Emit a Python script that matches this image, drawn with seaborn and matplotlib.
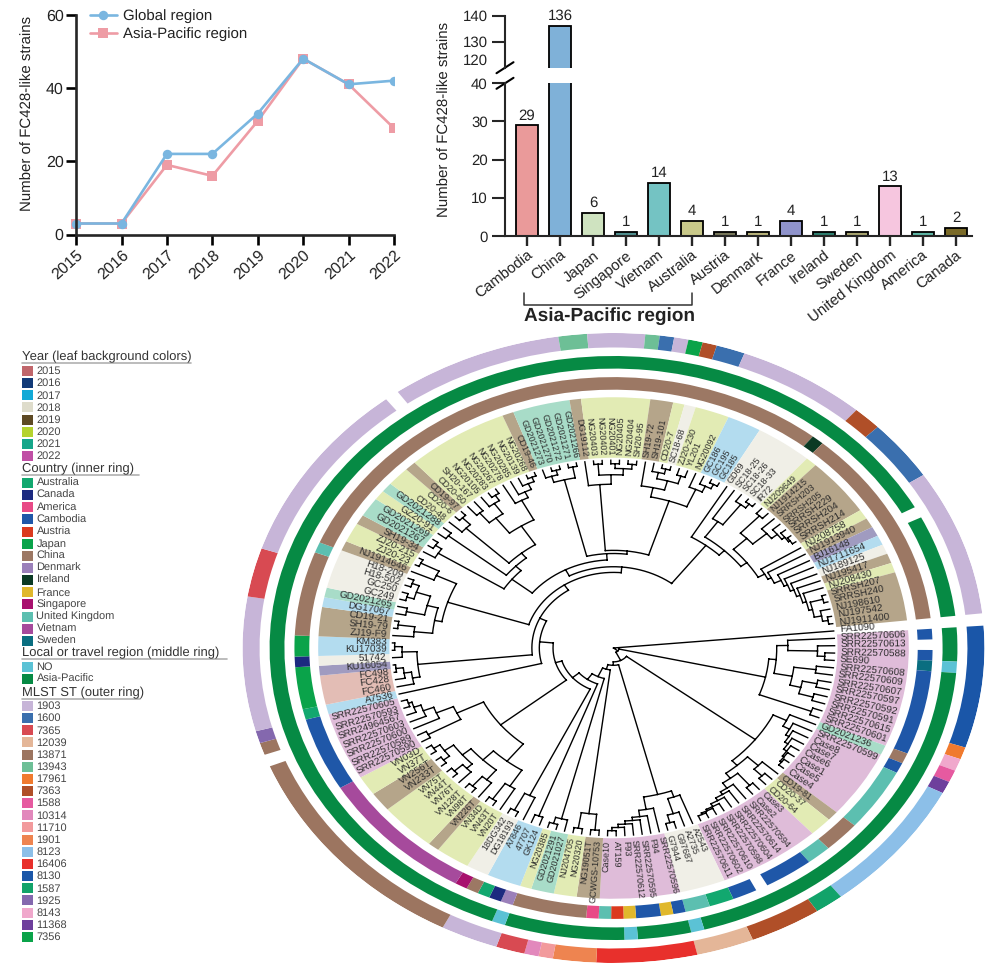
import re
import itertools
import numpy as np
import pandas as pd
import matplotlib
matplotlib.use("Agg")
import matplotlib.pyplot as plt
from matplotlib.patches import Rectangle
import seaborn as sns

W, H = 994, 971

# ---------- top-left line chart ----------
years = [2015, 2016, 2017, 2018, 2019, 2020, 2021, 2022]
global_counts = [3, 3, 22, 22, 33, 48, 41, 42]
asia_counts = [3, 3, 19, 16, 31, 48, 41, 29]

# ---------- top-right bar chart ----------
bar_countries = ["Cambodia", "China", "Japan", "Singapore", "Vietnam", "Australia", "Austria",
                 "Denmark", "France", "Ireland", "Sweden", "United Kingdom", "America", "Canada"]
bar_counts = [29, 136, 6, 1, 14, 4, 1, 1, 4, 1, 1, 13, 1, 2]
bar_colors = ["#ea9a9a", "#7fb1d8", "#cfe3c0", "#4f8f8f", "#74c3c3", "#c9c98a", "#77775a",
              "#b8b37a", "#8f93cb", "#2f7f70", "#a7a46f", "#f6c6df", "#5db5a4", "#7a6a28"]

# ---------- tree leaves, clockwise from FA1090 ----------
leaf_names = [
    "FA1090", "SRR22570606", "SRR22570613", "SRR22570588", "SE690", "SRR22570608", "SRR22570609",
    "SRR22570607", "SRR22570597", "SRR22570592", "SRR22570591", "SRR22570615", "SRR22570601",
    "GD2021236", "SRR22570599", "Case8", "Case7", "Case6", "Case1", "Case5", "Case4", "CD19-81",
    "CD20-37", "CD20-64", "Case3", "Case2", "SRR22570594", "SRR22570614", "SRR22570604",
    "SRR22570598", "SRR22570610", "SRR22570602", "SRR22570611",
    "A2543", "A2735", "G97687", "G7944", "SRR22570596", "F94", "SRR22570595", "SRR22570612", "F93",
    "AT159", "Case10",
    "GCWGS-10753", "NG19051T", "NG20320", "NJ204705", "GD2021027", "GD2021291", "NG20385", "GK124",
    "47707", "A7846", "DG18193", "18DG342",
    "VN20T", "VN43T", "VN34D", "VN226T", "VN98T", "VN128T", "VN76T", "VN44T", "VN75T", "VN233T",
    "VN256T", "VN37T", "VN03D", "SRR22570590", "SRR22570589", "SRR22570600", "SRR22570603",
    "SRR24964567", "SRR22570593", "SRR22570605",
    "A7536", "FC460", "FC428", "FC498", "KU16054", "51742", "KU17039", "KM383",
    "ZJ19-F9", "SH19-79", "CD19-21", "DG17067", "GD2021265", "GC249", "GC250", "H18-502", "H18-209",
    "NJ1914646", "ZJ20-23", "ZJ20-215",
    "SH19-34", "GD2021267", "GD2021269", "GZ20-91", "GD2021288", "CD20-48", "CD20-6", "CD19-97",
    "CD20-60", "SH20-167", "NG20105", "NG20283", "NG20267", "NG20278", "NG20285", "NG20139",
    "NG20268", "CD19-46",
    "GD2021273", "GD2021270", "GD2021272", "GD2021271", "GD2021266", "DG19112", "NG20403", "NG20402",
    "NG20401", "NG20405", "NG20404", "SH20-95",
    "SH19-72", "SH19-101", "CD20-7", "SC18-68", "ZJ20-230", "YL201", "NG20092", "GC186", "GC195",
    "GC185",
    "GD69", "SC18-25", "SC18-26", "SC18-33", "IR72", "NJ209649", "NJ1914215", "SRRSH203", "SRRSH205",
    "SRRSH229", "SRRSH204", "SRRSH214", "NJ208758", "NJ1913940", "BJ16148", "NJ1711654", "NJ189125",
    "NJ195417", "NJ208430", "SRRSH207", "SRRSH240", "NJ198610", "NJ197542", "NJ1911400"]

year_runs = [(None, 1), (2022, 12), (2021, 1), (2022, 7), (2019, 1), (2020, 2), (2022, 9),
             (2018, 4), (2022, 7), (2019, 2), (2020, 2), (2021, 2), (2020, 1), (2017, 3), (2018, 2),
             (2020, 3), (2019, 1), (2020, 5), (2019, 2), (2020, 2), (2022, 7),
             (2017, 1), (2015, 3), (2016, 1), (2018, 1), (2017, 2),
             (2019, 3), (2017, 1), (2021, 1), (2018, 4), (2019, 1), (2020, 2),
             (2019, 1), (2021, 2), (2020, 1), (2021, 1), (2020, 2), (2019, 1), (2020, 9), (2019, 1),
             (2021, 5), (2019, 1), (2020, 6), (2019, 2), (2020, 1), (2018, 1), (2020, 3), (2017, 3),
             (2018, 5), (2020, 1), (2019, 6), (2020, 1), (2019, 1), (2016, 1), (2017, 1), (2018, 1),
             (2019, 1), (2020, 1), (2019, 5)]
country_runs = [(None, 1), ("Cambodia", 1), (None, 1), ("Cambodia", 1), ("Sweden", 1), ("Cambodia", 8),
                ("China", 1), ("Cambodia", 1), ("United Kingdom", 6), ("China", 3), ("United Kingdom", 2),
                ("Cambodia", 4), (None, 1), ("Cambodia", 2), ("Australia", 2), ("United Kingdom", 2),
                ("Cambodia", 1), ("France", 1), ("Cambodia", 2), ("France", 1), ("Austria", 1),
                ("United Kingdom", 1), ("America", 1), ("China", 6), ("Denmark", 1), ("Canada", 1),
                ("Australia", 1), ("China", 1), ("Singapore", 1), ("Vietnam", 13), ("Cambodia", 7),
                ("Australia", 1), ("Japan", 4), ("Canada", 1), ("Japan", 2), ("China", 8),
                ("United Kingdom", 1), ("China", 47), ("Ireland", 1), ("China", 19)]
region_runs = [(None, 1), ("Asia-Pacific", 3), ("NO", 1), ("Asia-Pacific", 31), ("NO", 1),
               ("Asia-Pacific", 4), ("NO", 1), ("Asia-Pacific", 9), ("NO", 1), ("Asia-Pacific", 98),
               (None, 1), ("Asia-Pacific", 9)]
st_runs = [(None, 1), ("8130", 10), ("17961", 1), ("8143", 1), ("1588", 1), ("11368", 1), ("8123", 11),
           ("1587", 2), ("7363", 5), ("12039", 4), ("16406", 7), ("1901", 3), ("11710", 1), ("10314", 1),
           ("7365", 2), ("1903", 4), ("13871", 18), (None, 1), ("13871", 1), ("1925", 1), ("1903", 11),
           ("7365", 4), ("1903", 15), (None, 1), ("1903", 12), ("13943", 2), ("1903", 4), ("13943", 1),
           ("1600", 1), ("1903", 1), ("7356", 1), ("7363", 1), ("1600", 2), ("1903", 9), ("7363", 2),
           ("1600", 5), ("1903", 12)]

# ---------- legend categories and colours ----------
year_colors = {"2015": "#c0666b", "2016": "#123a78", "2017": "#12a9d6", "2018": "#dedccb",
               "2019": "#5e4a24", "2020": "#b5d32f", "2021": "#15a68a", "2022": "#c04fa5"}
year_tints = {2015: "#e3bdb5", 2016: "#a09bc0", 2017: "#b3dcef", 2018: "#f0efe7",
              2019: "#b5a58a", 2020: "#e2ebb4", 2021: "#a8dcc8", 2022: "#dfbcd9"}
country_colors = {"Australia": "#12a86f", "Canada": "#1c2a80", "America": "#e84a87", "Cambodia": "#1f57a8",
                  "Austria": "#db3a1e", "Japan": "#0aa34a", "China": "#9c7864", "Denmark": "#9b80ba",
                  "Ireland": "#0b3a24", "France": "#e0b82c", "Singapore": "#a8106e",
                  "United Kingdom": "#5cbfb0", "Vietnam": "#a64a9c", "Sweden": "#0a6e80"}
region_colors = {"NO": "#5bc2d5", "Asia-Pacific": "#068a44"}
st_colors = {"1903": "#c7b5d8", "1600": "#3a6fae", "7365": "#d84a52", "12039": "#e4b698", "13871": "#9c7560",
             "13943": "#6dbf96", "17961": "#f07a2e", "7363": "#b04f28", "1588": "#e65aa0", "10314": "#e288bc",
             "11710": "#f29a9c", "1901": "#ee8450", "8123": "#8cbfe8", "16406": "#e8302c", "8130": "#1a56a8",
             "1587": "#12a36a", "1925": "#8468ae", "8143": "#f0a8cc", "11368": "#6e3f9c", "7356": "#0aa349"}

# ---------- tree topology: "." is the next leaf, ":d" a node's distance from the root ----------
clade_a = "(((.,(.,(.,.):.57):.55):.47,((.,.):.55,((.,.):.56,(.,.):.56):.52):.49):.44,(.,.):.57):.42"
clade_b1 = "(.,(.,(.,(.,(.,(.,(.,.):.58):.575):.57):.56):.55):.54):.52"
clade_b2 = "(.,(.,.):.57):.54"
clade_b3 = "((.,.):.57,(.,(.,(.,(.,(.,(.,.):.58):.575):.57):.56):.55):.54):.52"
clade_b = f"({clade_b1},({clade_b2},{clade_b3}):.50):.48"
clade_c = "((.,(.,(.,.):.575):.55):.50,(.,(.,(.,(.,(.,(.,.):.58):.57):.56):.55):.54):.52):.48"
clade_d1 = "((.,.):.58,(.,.):.58):.53"
clade_d2 = "(.,(.,.):.58):.56"
clade_d3 = "(.,.):.57"
clade_t = "(.,(.,.):.58):.52"
clade_vn = ("((.,(.,.):.58):.52,((.,(.,.):.58):.54,((.,(.,.):.58):.55,"
            "((.,.):.58,(.,.):.58):.56):.53):.50):.46")
clade_srr = "((.,.):.57,(.,(.,(.,(.,.):.58):.57):.55):.52):.47"
clade_e = f"({clade_vn},{clade_srr}):.39"
clade_g = "((.,(.,(.,.):.59):.57):.55,(.,(.,.):.59):.57):.53"
clade_h = ("(((.,(.,.):.585):.54,((.,.):.57,((.,.):.58,(.,.):.58):.56):.52):.49,"
           "(.,(.,.):.585):.53):.47")
clade_i = ("((.,(.,.):.58):.56,((.,.):.57,((.,(.,.):.58):.55,(((.,.):.56,(.,(.,.):.58):.56):.52,"
           "(.,(.,(.,(.,.):.585):.57):.55):.53):.46):.39):.37):.35")
clade_j1 = "((.,(.,.):.585):.57,(.,.):.585):.55"
clade_j2 = "(.,((.,.):.585,((.,.):.585,(.,.):.585):.57):.55):.52"
clade_k = "((.,((.,(.,.):.585):.57,(.,.):.575):.55):.52,(.,(.,(.,.):.585):.57):.55):.49"
clade_r1 = "((.,.):.575,(.,(.,(.,(.,.):.585):.58):.57):.55):.5"
clade_r2 = "(.,(.,(.,(.,(.,(.,(.,((.,.):.585,(.,(.,.):.585):.57):.55):.54):.53):.52):.51):.5):.48):.47"
clade_l = f"(.,((.,(.,(.,.):.585):.57):.49,({clade_r1},{clade_r2}):.45):.43):.41"
backbone = [(".", 0), (clade_a, .015), (clade_b, .044), (clade_c, .055), (clade_d1, .07), (clade_d2, .10),
            (clade_d3, .122), (clade_t, .145), (clade_e, .163), (".", .20), (clade_g, .22), (clade_h, .24)]
tree_text = f"(({clade_i},({clade_j1},({clade_j2},{clade_k}):.31):.30):.28,{clade_l}):.258"
for clade, depth in reversed(backbone):
    tree_text = f"({clade},{tree_text}):{depth}"

# ---------- theme ----------
sns.set_theme(style="ticks")
plt.rcParams["font.family"] = ["Liberation Sans", "DejaVu Sans"]
plt.rcParams["axes.linewidth"] = 1.9
plt.rcParams["text.hinting"] = "no_hinting"
plt.rcParams["text.hinting_factor"] = 1
INK = "#222222"
fig = plt.figure(figsize=(W / 100, H / 100), dpi=100)


def rect_px(l, t, r, b):
    return [l / W, 1 - b / H, (r - l) / W, (b - t) / H]


# ---------- line chart ----------
ax1 = fig.add_axes(rect_px(67, 14.7, 394, 234.5))
line_df = pd.DataFrame({"year": years * 2,
                        "count": asia_counts + global_counts,
                        "region": ["Asia-Pacific region"] * 8 + ["Global region"] * 8})
line_pal = {"Asia-Pacific region": "#ee9ca5", "Global region": "#7ab6e0"}
sns.lineplot(data=line_df, x="year", y="count", hue="region", style="region",
             hue_order=["Asia-Pacific region", "Global region"],
             style_order=["Asia-Pacific region", "Global region"],
             palette=line_pal, markers={"Asia-Pacific region": "s", "Global region": "o"},
             dashes=False, errorbar=None, legend=False, linewidth=1.9, markersize=6.8,
             markeredgewidth=0, ax=ax1)
ax1.set_xlim(2014.8, 2022)
ax1.set_ylim(0, 60)
sns.despine(ax=ax1)
ax1.spines["left"].set_position(("data", 2015))
ax1.spines["bottom"].set_bounds(2015, 2022)
ax1.set_xticks(years)
ax1.set_yticks([0, 20, 40, 60])
ax1.tick_params(axis="both", width=1.9, length=7, labelsize=11.5, labelcolor=INK, color="black", pad=2)
for t in ax1.get_xticklabels():
    t.set(rotation=42, ha="right", va="top", rotation_mode="anchor")
ax1.set_xlabel("")
ax1.set_ylabel("Number of FC428-like strains", fontsize=11, color=INK)
ax1.yaxis.set_label_coords((35 - 67) / 327, 0.55)
leg = ax1.legend(handles=[ax1.lines[1], ax1.lines[0]], labels=["Global region", "Asia-Pacific region"],
                 loc="upper left", bbox_to_anchor=(90 / W, 1 - 9.5 / H), bbox_transform=fig.transFigure,
                 frameon=False, fontsize=11, handlelength=1.75, handletextpad=0.4, labelspacing=0.25,
                 borderpad=0, borderaxespad=0, labelcolor=INK)

# ---------- broken bar chart ----------
bar_df = pd.DataFrame({"country": bar_countries, "count": bar_counts})
bar_pal = dict(zip(bar_countries, bar_colors))
bar_left, bar_right = 505, 972
ax_low = fig.add_axes(rect_px(bar_left, 83.3, bar_right, 236))
ax_high = fig.add_axes(rect_px(bar_left, 15.7, bar_right, 67.7))
for ax, lim in ((ax_low, (0, 40)), (ax_high, (120, 140))):
    sns.barplot(data=bar_df, x="country", y="count", hue="country", palette=bar_pal, order=bar_countries,
                hue_order=bar_countries, dodge=False, legend=False, width=0.64, edgecolor="black",
                linewidth=1.3, saturation=1, ax=ax)
    ax.set_xlim(-22 / 33, (bar_right - 527) / 33)
    ax.set_ylim(*lim)
    ax.set_xlabel("")
    ax.set_ylabel("")
    sns.despine(ax=ax)
    for sp in ax.spines.values():
        sp.set_linewidth(1.5)
    for c in ax.containers:
        ax.bar_label(c, labels=[f"{v:g}" if lim[0] <= v <= lim[1] else "" for v in c.datavalues],
                     padding=2, fontsize=11, color=INK)
ax_low.set_yticks([0, 10, 20, 30, 40])
ax_low.tick_params(axis="y", width=1.5, length=9.5, labelsize=11, labelcolor=INK, pad=3)
ax_low.tick_params(axis="x", width=1.7, length=7, labelsize=11, labelcolor=INK, pad=2)
for t in ax_low.get_xticklabels():
    t.set(rotation=38, ha="right", va="top", rotation_mode="anchor")
ax_high.set_yticks([120, 130, 140])
ax_high.tick_params(axis="y", width=1.5, length=9.5, labelsize=11, labelcolor=INK, pad=3)
ax_high.yaxis.get_major_ticks()[0].tick1line.set_visible(False)
ax_high.get_yticklabels()[0].set_va("bottom")
ax_high.spines["bottom"].set_visible(False)
ax_high.tick_params(axis="x", bottom=False, labelbottom=False)
# axis-break marks
for ax, yfrac, h in ((ax_high, 0.0, 52.0), (ax_low, 1.0, 152.7)):
    ax.plot([-8.5 / 467, 8.5 / 467], [yfrac - 5.5 / h, yfrac + 5.5 / h], transform=ax.transAxes,
            color="black", lw=1.5, clip_on=False)
fig.text(445 / W, 1 - 119 / H, "Number of FC428-like strains", rotation=90, ha="center", va="center",
         fontsize=11, color=INK)
# bracket under the Asia-Pacific countries
tr = ax_low.get_xaxis_transform()
ax_low.plot([0 - 3 / 33, 0 - 3 / 33, 5, 5], [-57 / 152.7, -69 / 152.7, -69 / 152.7, -57 / 152.7], transform=tr,
            color="#333333", lw=1.1, clip_on=False)
ax_low.text(2.5, -80 / 152.7, "Asia-Pacific region", transform=tr, ha="center", va="center",
            fontweight="bold", fontsize=14, color=INK)


# ---------- circular tree ----------
def expand(runs):
    return list(itertools.chain.from_iterable([c] * n for c, n in runs))


N = len(leaf_names)
assert all(len(expand(r)) == N for r in (year_runs, country_runs, region_runs, st_runs))
STEP = np.deg2rad(2.25)
THETA0 = np.deg2rad(5.2)
leaf_theta = THETA0 - STEP * np.arange(N)

CX, CY, RX, RY = 613.5, 648, 371, 315
axc = fig.add_axes(rect_px(CX - RX, CY - RY, CX + RX, CY + RY), projection="polar")
axc.set_aspect("auto")
axc.set_ylim(0, 1)
axc.set_axis_off()


def draw_ring(runs, colors, r0, r1):
    i = 0
    for cat, n in runs:
        if cat is not None:
            axc.bar(THETA0 - STEP * (i + (n - 1) / 2), r1 - r0, width=STEP * n, bottom=r0,
                    color=colors[cat], linewidth=0, align="center")
        i += n


draw_ring(year_runs, year_tints, 0.604, 0.796)
draw_ring(country_runs, country_colors, 0.82, 0.86)
draw_ring(region_runs, region_colors, 0.887, 0.927)
draw_ring(st_runs, st_colors, 0.954, 1.0)

# parse the tree
tokens = re.findall(r"\(|\)|,|\.(?![0-9])|:[0-9.]+", tree_text)
pos = 0
next_leaf = 0
TIP = 0.596
xs, ys = [], []


def parse():
    """Read one node; returns (angle, radius) and stores its arc and child branches."""
    global pos, next_leaf
    tok = tokens[pos]
    pos += 1
    if tok == ".":
        t = leaf_theta[next_leaf]
        next_leaf += 1
        return t, TIP
    kids = [parse()]
    while tokens[pos] == ",":
        pos += 1
        kids.append(parse())
    pos += 1  # ')'
    r = float(tokens[pos][1:])
    pos += 1
    a0, a1 = kids[0][0], kids[-1][0]
    arc = np.linspace(a0, a1, max(2, int(abs(a1 - a0) / 0.01)))
    xs.extend(arc); ys.extend([r] * len(arc)); xs.append(np.nan); ys.append(np.nan)
    for ka, kr in kids:
        xs.extend([ka, ka, np.nan]); ys.extend([r, kr, np.nan])
    return (a0 + a1) / 2, r


root_theta, root_r = parse()
assert next_leaf == N
axc.plot(xs, ys, color="black", lw=1.0, solid_capstyle="projecting")

# leaf labels: the ellipse stretches text along its long axis, so the size follows the local radius
for name, t in zip(leaf_names, leaf_theta):
    phi = np.degrees(np.arctan2(RY * np.sin(t), RX * np.cos(t)))
    phi_n = (phi + 180) % 360 - 180
    right = -90 <= phi_n <= 90
    size = 7.3 * np.hypot(RX * np.cos(t), RY * np.sin(t)) / RX
    axc.text(t, 0.612, name, rotation=phi_n if right else phi_n + 180,
             ha="left" if right else "right", va="center", rotation_mode="anchor",
             fontsize=size, color="#2b2b2b")

# ---------- legend panel ----------
lg = fig.add_axes([0, 0, 1, 1], zorder=-1)
lg.set_xlim(0, W)
lg.set_ylim(H, 0)
lg.axis("off")
ITEM = 12.15
sections = [("Year (leaf background colors)", year_colors, 357, 371, 191),
            ("Country (inner ring)", country_colors, 469, 483, 139),
            ("Local or travel region (middle ring)", region_colors, 653, 667, 227),
            ("MLST ST (outer ring)", st_colors, 693, 706, 140)]
for title, cmap, ty, y0, ux in sections:
    lg.text(22, ty, title, fontsize=9.5, color="#333333", va="center", ha="left")
    lg.plot([22, ux], [ty + 6.5, ty + 6.5], color="#b0b0b0", lw=1.2)
    for k, (lab, col) in enumerate(cmap.items()):
        y = y0 + k * ITEM
        lg.add_patch(Rectangle((22, y - 5), 11, 10, facecolor=col, edgecolor="none"))
        lg.text(36.5, y + 0.3, lab, fontsize=7.7, color="#444444", va="center", ha="left")

fig.savefig("out.png", dpi=100, facecolor="white")
